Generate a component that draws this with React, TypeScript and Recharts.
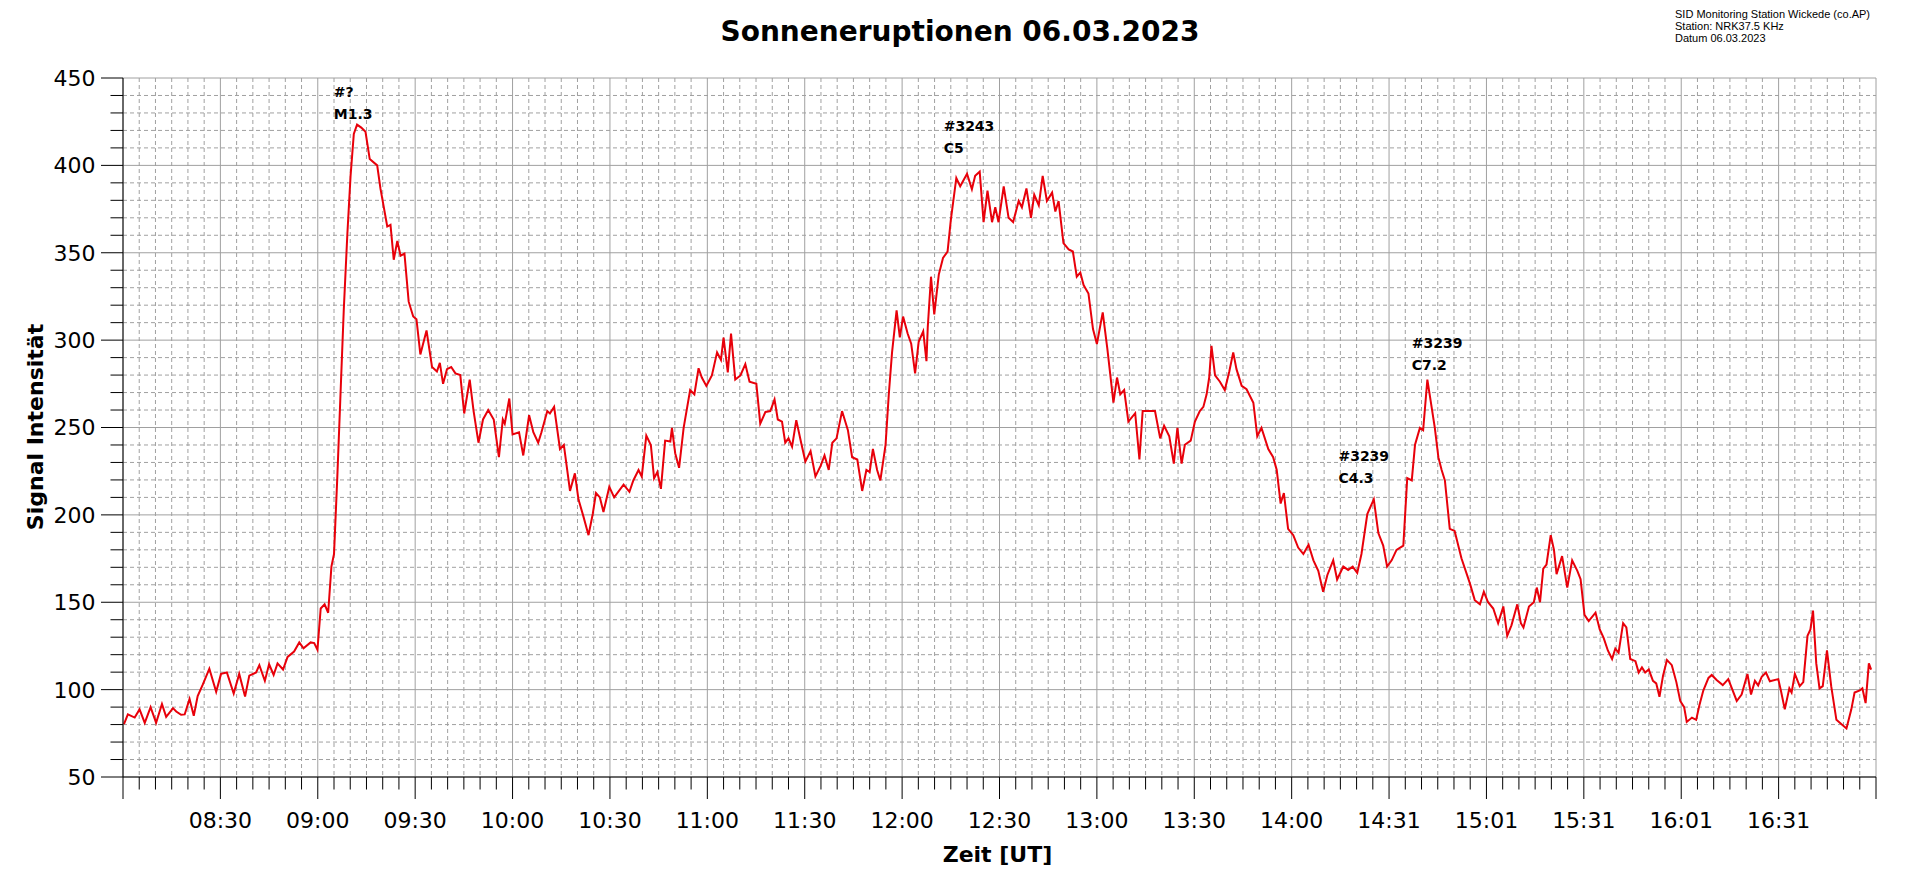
import React from 'react';
import { LineChart, Line, XAxis, YAxis, CartesianGrid, ReferenceDot } from 'recharts';

// minutes after 08:00 UT
const sampleMinutes: number[] = [
  0.3, 1.5, 3.6, 5.1, 6.7, 8.5, 10.2, 12, 13.3, 15.4, 16.4, 17.9, 19, 20.5, 21.8, 23, 24.6, 26.6, 28.7, 30.2,
  32, 34.1, 35.8, 37.6, 38.9, 41, 42, 43.7, 45, 46.4, 47.6, 49.3, 50.7, 52.7, 54.3, 55.6, 57.8, 58.9, 59.9, 60.9,
  62.1, 63.2, 64.2, 65, 66, 67, 68, 69.1, 70.1, 71.1, 72.1, 73.4, 74.7, 76, 78.3, 79.3, 81.4, 82.4, 83.4, 84.5,
  85.5, 86.7, 88, 89.4, 90.4, 91.6, 93.5, 95.2, 96.7, 97.6, 98.6, 99.8, 101.1, 102.4, 103.9, 105.1, 106.8, 108, 109.5,
  110.9, 112.5, 114.2, 115.8, 117, 117.6, 119, 120, 122, 123.3, 125.1, 126.4, 127.9, 128.9, 130.7, 131.5, 132.8, 134.6,
  135.8, 137.7, 139.2, 140.3, 141.8, 143.4, 144.7, 145.7, 146.9, 148, 149.8, 151.3, 154.2, 156, 157.2, 158.8, 159.8,
  161.2, 162.6, 163.6, 164.6, 165.7, 167, 168.6, 169.1, 170.1, 171.3, 172.7, 174.7, 176, 177.3, 178.3, 179.7, 181.4,
  183, 184.2, 185, 186.3, 187.3, 188.6, 190.2, 191.7, 193, 195.1, 196.3, 197.9, 199.4, 200.7, 201.7, 203, 204, 205,
  206.1, 207.4, 208.9, 210.2, 211.8, 213.3, 214.9, 216.1, 217.4,
  218.5, 219.8, 221.5, 223.3, 224.6, 226.2, 227.7, 229, 230, 231, 232.3, 233.3, 234.9, 235.9, 236.9, 238.3, 239.3,
  240.3, 241.7, 242.8, 244, 245.1, 246.5, 247.5, 247.9, 248.9, 249.9, 251.3, 252.6, 254, 255, 256.7, 257.9, 260,
  261.5, 262.5, 263.9, 265.1, 266.3, 267.7, 268.7, 269.7, 271.3, 272.8, 274.2, 275.9, 276.9, 278.3, 279.7, 280.7,
  282.1, 283.3, 284.6, 286.2, 287.2, 288.2, 289.7, 291.3, 292.6, 293.8, 294.9, 295.9, 297.4, 298.8, 300, 301.8,
  303.2, 305.1, 306.2, 307.2, 308.4, 309.7, 311.8, 313.1, 314.1, 315.9, 317.9, 319.5, 320.7, 322.3, 323.7,
  324.8, 326.1, 327.1, 328.9, 330.2, 331.7, 332.8, 333.8, 334.6, 335.3, 336.4, 337.9, 339.4, 340.8, 342, 343, 344.6,
  346.1, 348.2, 349.4, 350.7, 352.8, 354.3, 355.4, 356.6, 357.6, 358.9, 360.5, 362, 363.6, 365.2, 366.7, 368.2,
  369.7, 371, 372.8, 374, 375.9, 377.4, 378.8, 380.2, 381.5, 383.3, 385.3, 386.7, 388.2, 389.4, 390.8, 392.3, 394.4,
  395.6, 397, 398, 399.5, 400.5, 401.8, 403.1, 404.1, 405.2, 406.2, 407.2, 408.7, 410.2, 412.3, 414.9, 416.4, 418,
  419.2, 420.5, 422.1, 423.6, 425.2, 426.4, 427.7, 429.5,
  430.6, 431.4, 433.1, 434.6, 435.5, 436.5, 437.5, 438.5, 439.8, 440.8, 441.6, 443.3, 444.9, 446.4, 448, 449, 450.2,
  451.5, 453.6, 454.9, 456.1, 457.4, 458.7, 459.7, 460.7, 462.1, 463.1, 464.3, 465.9, 466.9, 467.9, 468.9, 470,
  471.3, 472.3, 473.3, 474.4, 475.6, 477.1, 478.5, 479.7, 480.9, 481.7, 483.3, 484.6, 485.6, 486.8, 488.4, 489.4,
  490.9, 492.8, 494.5, 497.1, 498.6, 500.4, 501.5, 502.7, 503.7, 504.8, 506.1, 507.3, 509.9, 510.7, 511.9, 513.3,
  514, 515, 516.5, 517.6, 518.9, 519.8, 520.6, 521.6, 522.6, 523.6, 524.9, 526.2, 527.8, 529.3, 530.9, 532.4, 533.4,
  535, 535.8, 536.8, 537.8, 538.5,
];

const sampleSignal: number[] = [
  80.3, 85.8, 84, 88.7, 81, 90, 81, 91.8, 84.4, 89.4, 87.5, 85.6, 85.8, 94.7, 85, 96.3, 103, 112, 98.8, 109,
  109.8, 97.8, 109, 96, 108, 109.8, 114, 105, 114.6, 108.4, 115, 111.5, 118.7, 121.8, 127, 123.6, 127, 126.6, 122.8, 146.4,
  148.8, 144, 170.4, 177.6, 220.9, 269, 317, 360.3, 394, 418, 423.3, 421.6, 419.2, 403.6, 400, 386.8, 365, 366, 346, 356.7,
  348.3, 349.5, 322, 313.5, 312, 291.8, 305.5, 284.6, 282, 287, 275, 283.4, 284.6, 281, 280, 258, 277.4, 259.4, 241.3,
  254.6, 260, 254.6, 233, 254.6, 252.2, 266.6, 246, 247.3, 234, 257, 247.3, 241.3, 247.3, 259.4, 258, 261.8, 237.7,
  240, 213.7, 223.8, 208.9, 199.3, 188.4, 200.5, 212.5, 210, 201.7, 216, 210, 217.3, 213.2, 219.7, 225.7, 222,
  245.4, 240, 220.9, 224.5, 214.9, 242.5, 242, 249.8, 235.3, 226.9, 249.8, 271.4, 269, 283.9, 278.6, 273.8, 279.8,
  293, 288.7, 301.4, 281.5, 303.8, 277.4, 279.8, 286.3, 276.2, 275, 252.2, 258.9, 259.4, 266.1, 254.6, 253.4, 241.3, 243.8,
  239, 254.2, 241.3, 230.5, 236.5, 222, 228, 234, 225.7,
  241.3, 243.8, 259.4, 248.5, 233, 231.7, 213.7, 225.7, 224.5, 237.7, 225.7, 219.7, 240.1, 269, 293, 317, 301.6,
  313.5, 303.8, 298, 281, 299, 305, 288, 307.4, 336.3, 314.7, 337.5, 347, 350.7, 368.7, 392.8, 388, 395.2,
  386.3, 394, 396.4, 367.5, 385.6, 367.5, 376, 367.5, 388, 370, 367.5, 379.6, 376, 386.8, 370, 383.2,
  377.2, 394, 379.6, 384.4, 373.6, 379.6, 355.5, 351.9, 350.7, 336.3, 338.7, 331.5, 326.7, 306.3, 297.8, 315.9,
  295.4, 264.2, 278.6, 269, 271.4, 253.4, 258.2, 231.7, 259.4, 259.4, 259.4, 243.8, 251, 245, 229.3,
  249.8, 229.3, 240.1, 242.5, 253.4, 259.4, 261.8, 269, 278.6, 296.7, 279.8, 276.2, 271.4, 282.2, 293, 283.4, 273.8,
  271.9, 264.2, 245, 249.8, 237.7, 233, 225.7, 206.5, 212.5, 192, 188.4, 181.3, 177.6, 182.9, 174, 168,
  156, 165.6, 174, 163, 170.4, 168.5, 170.4, 166.8, 177.6, 200.5, 208.9, 189.6, 182.4, 170.4, 174, 180, 182.4,
  221, 219.7, 240.1, 249.8, 248.5, 277.4, 261.8, 249.8, 232.9, 225.7, 219.7, 192, 190.8, 175.2, 160.8, 151.2, 148.8,
  156, 150, 146.4, 138, 147.6, 130.8, 136.8, 148.8,
  138, 135.6, 147.6, 150, 158.4, 150, 169.2, 171.6, 188.4, 180, 166.1, 176.4, 158.4, 174, 168, 163.2, 142.8,
  139.2, 144, 134.4, 129.6, 122.4, 117.5, 123.5, 121.1, 138, 135.6, 117.5, 116.3, 109.8, 112.7, 109.8, 111.5,
  105, 103.6, 95.9, 108, 117, 114, 104.3, 93.5, 90, 81.5, 84, 82.7, 91, 99.5, 106.7, 108.4,
  105.5, 102.6, 106, 93.5, 97.2, 109, 97.2, 105, 102.4, 107.4, 109.8, 104.8, 106, 99.5, 88.7, 100.7,
  98.3, 109, 102, 104.3, 130.8, 134.4, 145.2, 115, 100.7, 102, 122.4, 102, 82.7, 80.3, 77.8, 88.7, 98.3,
  99.5, 100.7, 92.3, 115, 111.5,
];

const xTickMinutes = [30, 60, 90, 120, 150, 180, 210, 240, 270, 300, 330, 360, 390, 420, 450, 480, 510];
const xTickLabels = ['08:30', '09:00', '09:30', '10:00', '10:30', '11:00', '11:30', '12:00', '12:30', '13:00', '13:30', '14:00', '14:31', '15:01', '15:31', '16:01', '16:31'];
const yMajorValues = [50, 100, 150, 200, 250, 300, 350, 400, 450];

const noteMinutes = [64.95, 252.8, 374.4, 397];
const noteValues = [439.3, 419.5, 231, 295.5];
const noteRegion = ['#?', '#3243', '#3239', '#3239'];
const noteClass = ['M1.3', 'C5', 'C4.3', 'C7.2'];

const X_MIN = 0;
const X_MAX = 540;
const Y_MIN = 50;
const Y_MAX = 450;

const data = sampleMinutes.map((m, i) => ({ minute: m, signal: sampleSignal[i] }));

const bottomTicks: number[] = [];
for (let v = X_MIN; v <= X_MAX; v += 5) bottomTicks.push(v);
const minorX = bottomTicks.filter((v) => v % 30 !== 0);
const majorX = bottomTicks.filter((v) => v % 30 === 0);
const leftTicks: number[] = [];
for (let v = Y_MIN; v <= Y_MAX; v += 10) leftTicks.push(v);
const minorY = leftTicks.filter((v) => v % 50 !== 0);
const topTicks: number[] = [];
for (let i = 0; i <= 40; i++) topTicks.push((X_MAX / 40) * i);

const FONT = 'DejaVu Sans';

const BottomTick = (props: any) => {
  const { x, y, payload } = props;
  const v = payload.value;
  const major = v % 30 === 0;
  const idx = xTickMinutes.indexOf(v);
  return (
    <g>
      <line x1={x} y1={y} x2={x} y2={y + (major ? 22 : 12.5)} stroke="#000" strokeWidth={1} />
      {idx >= 0 && (
        <text x={x} y={y + 51} textAnchor="middle" fontFamily={FONT} fontSize={22} fill="#000">
          {xTickLabels[idx]}
        </text>
      )}
    </g>
  );
};

const TopTick = (props: any) => {
  const { x, y, payload } = props;
  const i = Math.round(payload.value / (X_MAX / 40));
  const major = i % 5 === 0;
  return <line x1={x} y1={y} x2={x} y2={y - (major ? 22 : 12.5)} stroke="#000" strokeWidth={1} />;
};

const LeftTick = (props: any) => {
  const { x, y, payload } = props;
  const v = payload.value;
  const major = v % 50 === 0;
  return (
    <g>
      <line x1={x - (major ? 22 : 12.5)} y1={y} x2={x} y2={y} stroke="#000" strokeWidth={1} />
      {major && (
        <text x={x - 27.5} y={y} dy="0.36em" textAnchor="end" fontFamily={FONT} fontSize={22} fill="#000">
          {v}
        </text>
      )}
    </g>
  );
};

const RightTick = (props: any) => {
  const { x, y, payload } = props;
  const major = payload.value % 50 === 0;
  return <line x1={x} y1={y} x2={x + (major ? 22 : 12.5)} y2={y} stroke="#000" strokeWidth={1} />;
};

const makeNote = (i: number) => (p: any) => (
  <g>
    <text x={p.cx} y={p.cy} fontFamily={FONT} fontWeight="bold" fontSize={14} fill="#000">
      {noteRegion[i]}
    </text>
    <text x={p.cx} y={p.cy + 22} fontFamily={FONT} fontWeight="bold" fontSize={14} fill="#000">
      {noteClass[i]}
    </text>
  </g>
);

export default function App() {
  return (
    <div style={{ position: 'absolute', left: 0, top: 0, width: 1920, height: 879, background: '#fff' }}>
      <LineChart width={1920} height={879} data={data} margin={{ top: 78, right: 44, bottom: 0, left: 0 }}>
        <XAxis
          xAxisId="b"
          type="number"
          dataKey="minute"
          domain={[X_MIN, X_MAX]}
          ticks={bottomTicks}
          interval={0}
          height={102}
          tickSize={0}
          tickMargin={0}
          tickLine={false}
          axisLine={{ stroke: '#000' }}
          tick={<BottomTick />}
        />
        <XAxis
          xAxisId="t"
          orientation="top"
          type="number"
          domain={[X_MIN, X_MAX]}
          ticks={topTicks}
          interval={0}
          height={0}
          tickSize={0}
          tickMargin={0}
          tickLine={false}
          axisLine={{ stroke: '#000' }}
          tick={<TopTick />}
        />
        <YAxis
          yAxisId="l"
          type="number"
          domain={[Y_MIN, Y_MAX]}
          ticks={leftTicks}
          interval={0}
          width={123}
          tickSize={0}
          tickMargin={0}
          tickLine={false}
          axisLine={{ stroke: '#000' }}
          tick={<LeftTick />}
        />
        <YAxis
          yAxisId="r"
          orientation="right"
          type="number"
          domain={[Y_MIN, Y_MAX]}
          ticks={leftTicks}
          interval={0}
          width={0}
          tickSize={0}
          tickMargin={0}
          tickLine={false}
          axisLine={{ stroke: '#000' }}
          tick={<RightTick />}
        />
        <CartesianGrid
          xAxisId="b"
          yAxisId="l"
          verticalValues={minorX}
          horizontalValues={minorY}
          stroke="#a0a0a0"
          strokeDasharray="4 3"
        />
        <CartesianGrid
          xAxisId="b"
          yAxisId="l"
          verticalValues={majorX}
          horizontalValues={yMajorValues}
          stroke="#a0a0a0"
        />
        <Line
          xAxisId="b"
          yAxisId="l"
          type="linear"
          dataKey="signal"
          stroke="#e8000a"
          strokeWidth={2}
          dot={false}
          activeDot={false}
          isAnimationActive={false}
        />
        {noteMinutes.map((m, i) => (
          <ReferenceDot
            key={i}
            xAxisId="b"
            yAxisId="l"
            x={m}
            y={noteValues[i]}
            r={0}
            shape={makeNote(i)}
          />
        ))}
      </LineChart>
      <svg
        width={1920}
        height={879}
        style={{ position: 'absolute', left: 0, top: 0, pointerEvents: 'none' }}
      >
        <text x={960} y={41} textAnchor="middle" fontFamily={FONT} fontWeight="bold" fontSize={28} fill="#000">
          Sonneneruptionen 06.03.2023
        </text>
        <g fontFamily="Liberation Sans" fontSize={11} fill="#000">
          <text x={1675} y={18.3}>SID Monitoring Station Wickede (co.AP)</text>
          <text x={1675} y={30.3}>Station: NRK37.5 KHz</text>
          <text x={1675} y={42.3}>Datum 06.03.2023</text>
        </g>
        <text x={997.5} y={861.7} textAnchor="middle" fontFamily={FONT} fontWeight="bold" fontSize={22} fill="#000">
          Zeit [UT]
        </text>
        <text
          transform="translate(43.3, 427) rotate(-90)"
          x={0}
          y={0}
          textAnchor="middle"
          fontFamily={FONT}
          fontWeight="bold"
          fontSize={22}
          fill="#000"
        >
          Signal Intensität
        </text>
      </svg>
    </div>
  );
}
